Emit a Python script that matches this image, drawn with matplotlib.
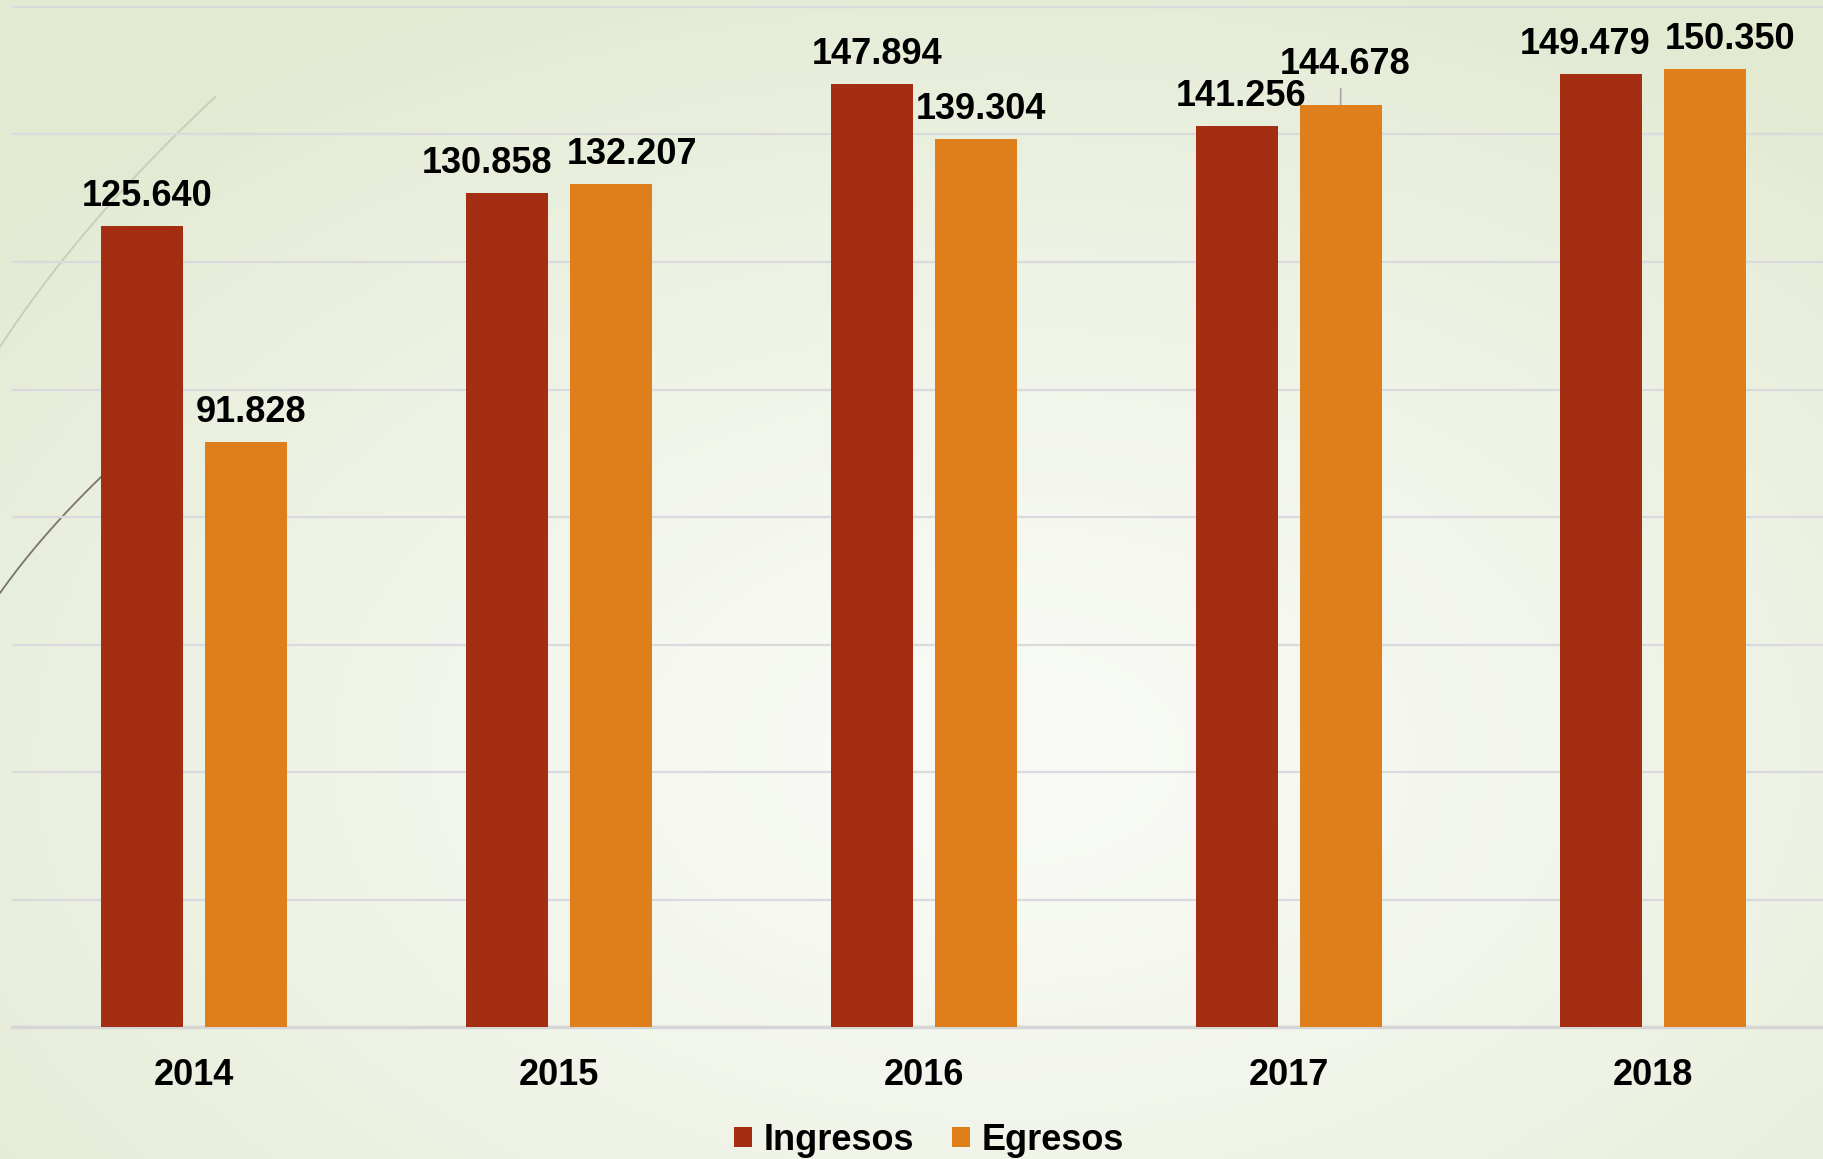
import matplotlib
matplotlib.use('Agg')
import matplotlib.pyplot as plt
from matplotlib.patches import Patch
import numpy as np

# ---------------- data ----------------
years = ['2014', '2015', '2016', '2017', '2018']
ingresos = [125640, 130858, 147894, 141256, 149479]
egresos = [91828, 132207, 139304, 144678, 150350]
series_names = ['Ingresos', 'Egresos']

# ---------------- style / layout ----------------
colors = ['#A42E12', '#DE7F1B']
label_dx = {  # horizontal nudges of data labels (points)
    'Ingresos': [3.6, -14.4, 3.6, 3.0, -11.5],
    'Egresos': [3.6, 15.0, 3.6, 3.0, 18.0],
}
label_dy = {
    'Ingresos': [14.4, 14.4, 14.4, 14.4, 14.4],
    'Egresos': [14.4, 14.4, 14.4, 22.3, 14.4],
}
leader = {'Egresos': [False, False, False, True, False],
          'Ingresos': [False] * 5}

plt.rcParams['font.family'] = ['Liberation Sans', 'DejaVu Sans']

W, H = 1824, 1159
fig = plt.figure(figsize=(W / 100, H / 100), dpi=100)

# background radial gradient
bg = fig.add_axes([0, 0, 1, 1], zorder=-10)
yy, xx = np.mgrid[0:H, 0:W]
cx, cy = 0.55 * W, 0.65 * H
r = np.sqrt(((xx - cx) / W) ** 2 + ((yy - cy) / H) ** 2)
t = np.clip(r / 0.72, 0, 1) ** 1.4
c0 = np.array([249, 250, 246]) / 255
c1 = np.array([226, 234, 210]) / 255
img = c0 + (c1 - c0) * t[..., None]
bg.imshow(img, extent=[0, W, H, 0], aspect='auto', interpolation='bilinear')
# decorative slide arcs (smooth curves)
a1 = np.polyfit([347, 262, 135, 97], [0, 61, 176, 215], 2)
ys1 = np.linspace(347, 97, 100)
bg.plot(np.polyval(a1, ys1), ys1, color='#C9CDB8', lw=1.3)
a2 = np.polyfit([593, 500, 477], [0, 78, 101], 2)
ys2 = np.linspace(593, 477, 60)
bg.plot(np.polyval(a2, ys2), ys2, color='#7D7563', lw=1.3)
bg.set_xlim(0, W)
bg.set_ylim(H, 0)
bg.axis('off')

# main axes
base_px = 1027
px_per_k = 6.375
left_px = 12
group_px = 364.75
ax = fig.add_axes([left_px / W, 1 - base_px / H, (W - left_px) / W, base_px / H])
ax.set_facecolor('none')
ax.set_xlim(-0.5, -0.5 + (W - left_px) / group_px)
ax.set_ylim(0, base_px / px_per_k * 1000)

x = np.arange(len(years))
width = 0.225
offset = 0.1425
for i, (name, vals) in enumerate(zip(series_names, [ingresos, egresos])):
    xs = x + (-offset if i == 0 else offset)
    ax.bar(xs, vals, width=width, color=colors[i], zorder=3, label=name)
    for j, (xv, v) in enumerate(zip(xs, vals)):
        txt = f'{v:,}'.replace(',', '.')
        if leader[name][j]:
            ax.annotate(txt, xy=(xv, v), xytext=(label_dx[name][j], label_dy[name][j]),
                        textcoords='offset points', ha='center', va='baseline',
                        fontsize=26, fontweight='bold', color='#000000', zorder=5,
                        arrowprops=dict(arrowstyle='-', color='#A6A6A6', lw=1.2,
                                        shrinkA=3, shrinkB=0, relpos=(0.47, 0)))
        else:
            ax.annotate(txt, xy=(xv, v), xytext=(label_dx[name][j], label_dy[name][j]),
                        textcoords='offset points', ha='center', va='baseline',
                        fontsize=26, fontweight='bold', color='#000000', zorder=5)

ax.set_yticks(np.arange(0, 160001, 20000))
ax.yaxis.grid(True, color='#D9D9DE', lw=1.6, zorder=0)
ax.set_axisbelow(True)
ax.tick_params(axis='y', length=0, labelleft=False)
ax.set_xticks(x)
ax.set_xticklabels(years, fontsize=26, fontweight='bold')
ax.tick_params(axis='x', length=0, pad=22)
for s in ['top', 'right', 'left']:
    ax.spines[s].set_visible(False)
ax.spines['bottom'].set_color('#D6D6D6')
ax.spines['bottom'].set_linewidth(2.5)

handles = [Patch(facecolor=c, edgecolor='none') for c in colors]
fig.legend(handles, series_names, loc='lower center', bbox_to_anchor=(929 / W, -0.002),
           ncol=2, frameon=False, prop={'size': 26, 'weight': 'bold'},
           handlelength=0.5, handleheight=0.5, handletextpad=0.33,
           columnspacing=1.05, borderpad=0.1, borderaxespad=0)

fig.savefig('out.png', dpi=100)
